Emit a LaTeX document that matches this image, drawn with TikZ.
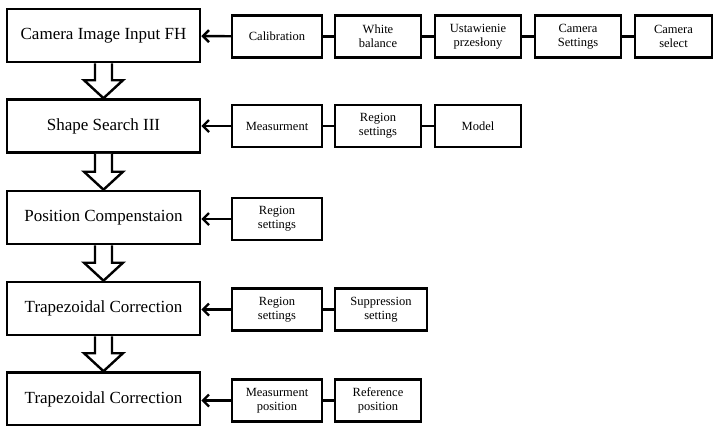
\documentclass[tikz,border=0pt]{standalone}
\usepackage{fontspec}
\setmainfont{Liberation Serif}
\usetikzlibrary{arrows.meta}
\begin{document}
\begin{tikzpicture}[x=1pt,y=-1pt,
  mainbox/.style={draw, line width=2.6pt, minimum width=193pt, minimum height=53pt, inner sep=0pt, font=\fontsize{17}{19}\selectfont},
  sidebox/.style={draw, line width=2.4pt, minimum height=42pt, inner sep=0pt, align=center, font=\fontsize{12.5}{14}\selectfont},
  wideside/.style={sidebox, minimum width=90pt},
  narrowside/.style={sidebox, minimum width=86pt},
  link/.style={line width=2.4pt},
  feed/.style={line width=2.4pt, -{Straight Barb[length=6pt,width=12pt,line width=2.4pt]}},
  blockarrow/.style={draw, line width=2.4pt, fill=white, line join=miter}]
\useasboundingbox (0,0) rectangle (713,426);
% main column
\node[mainbox] (m1) at (103.5,35.5) {Camera Image Input FH};
\node[mainbox] (m2) at (103.5,126) {Shape Search III};
\node[mainbox] (m3) at (103.5,217.5) {Position Compenstaion};
\node[mainbox] (m4) at (103.5,308.5) {Trapezoidal Correction};
\node[mainbox] (m5) at (103.5,399) {Trapezoidal Correction};
% block arrows
\foreach \a/\b in {m1/m2, m2/m3, m3/m4, m4/m5}{
  \draw[blockarrow] ([xshift=-8.5pt]\a.south) -- ([xshift=-8.5pt,yshift=18pt]\b.north)
    -- ([xshift=-19.5pt,yshift=18pt]\b.north) -- (\b.north)
    -- ([xshift=19.5pt,yshift=18pt]\b.north) -- ([xshift=8.5pt,yshift=18pt]\b.north)
    -- ([xshift=8.5pt]\a.south);
}
% row 1
\node[wideside] (c1) at (277,36.5) {Calibration};
\node[narrowside] (c2) at (378,36.5) {White\\balance};
\node[narrowside] (c3) at (478,36.5) {Ustawienie\\przesłony};
\node[narrowside] (c4) at (578,36.5) {Camera\\Settings};
\node[sidebox, minimum width=77pt] (c5) at (673.5,36.5) {Camera\\select};
\draw[feed] (c1) -- (m1);
\draw[link] (c1) -- (c2);
\draw[link] (c2) -- (c3);
\draw[link] (c3) -- (c4);
\draw[link] (c4) -- (c5);
% row 2
\node[wideside] (s1) at (277,126) {Measurment};
\node[narrowside] (s2) at (378,126) {Region\\settings};
\node[narrowside] (s3) at (478,126) {Model};
\draw[feed] (s1) -- (m2);
\draw[link] (s1) -- (s2);
\draw[link] (s2) -- (s3);
% row 3
\node[wideside] (p1) at (277,219) {Region\\settings};
\draw[feed] (p1.west) -- (m3.east |- p1.west);
% row 4
\node[wideside] (t1) at (277,309.5) {Region\\settings};
\node[sidebox, minimum width=92pt] (t2) at (381,309.5) {Suppression\\setting};
\draw[feed] (t1.west) -- (m4.east |- t1.west);
\draw[link] (t1) -- (t2);
% row 5
\node[wideside] (r1) at (277,400.5) {Measurment\\position};
\node[narrowside] (r2) at (378,400.5) {Reference\\position};
\draw[feed] (r1.west) -- (m5.east |- r1.west);
\draw[link] (r1) -- (r2);
\end{tikzpicture}
\end{document}
